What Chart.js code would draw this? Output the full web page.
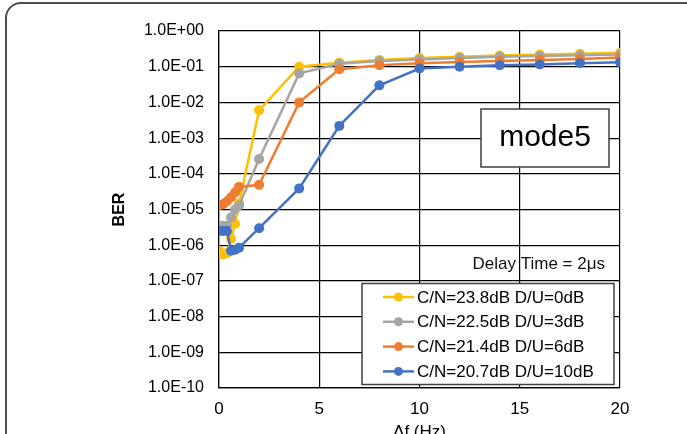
<!DOCTYPE html>
<html>
<head>
<meta charset="utf-8">
<script src="https://cdn.jsdelivr.net/npm/chart.js@4.4.1/dist/chart.umd.min.js"></script>
<style>
  html, body { margin: 0; padding: 0; background: #fff; overflow: hidden; width: 687px; height: 434px; }
  .frame { position: absolute; left: 5px; top: 2px; width: 900px; height: 700px; border: 2px solid #4d4d4d; border-radius: 16px; }
  #wrap { position: absolute; left: 0; top: 0; width: 687px; height: 460px; }
</style>
</head>
<body>
<div class="frame"></div>
<div id="wrap"><canvas id="chart" width="687" height="460"></canvas></div>
<script>
// frequency offset (Hz)
const freqs = [0, 0.2, 0.4, 0.6, 0.8, 1, 2, 4, 6, 8, 10, 12, 14, 16, 18, 20];

const seriesNames = [
    'C/N=23.8dB D/U=0dB',
    'C/N=22.5dB D/U=3dB',
    'C/N=21.4dB D/U=6dB',
    'C/N=20.7dB D/U=10dB',
];

// BER per series
const berDU0  = [7e-7, 5.5e-7, 6e-7, 1.5e-6, 4e-6, 1.5e-5, 6e-3, 0.1, 0.13, 0.155, 0.175, 0.19, 0.205, 0.22, 0.23, 0.245];
const berDU3  = [3.5e-6, 3.5e-6, 3.5e-6, 6e-6, 1e-5, 1.3e-5, 2.6e-4, 0.065, 0.12, 0.145, 0.16, 0.175, 0.19, 0.2, 0.21, 0.22];
const berDU6  = [1.3e-5, 1.4e-5, 1.7e-5, 2.2e-5, 3e-5, 4.3e-5, 4.9e-5, 1e-2, 0.085, 0.11, 0.125, 0.135, 0.145, 0.155, 0.165, 0.18];
const berDU10 = [2.5e-6, 2.5e-6, 2.5e-6, 7e-7, 7.5e-7, 8.5e-7, 3e-6, 3.9e-5, 2.2e-3, 3e-2, 8.9e-2, 0.1, 0.11, 0.115, 0.125, 0.133];

const seriesColors = ['#FFC000', '#A5A5A5', '#ED7D31', '#4472C4'];

const yTicks = [1, 1e-1, 1e-2, 1e-3, 1e-4, 1e-5, 1e-6, 1e-7, 1e-8, 1e-9, 1e-10];

const FONT = "'Liberation Sans', Arial, sans-serif";

const fmtExp = (v) => {
    const e = Math.round(Math.log10(v));
    return '1.0E' + (e < 0 ? '-' : '+') + String(Math.abs(e)).padStart(2, '0');
};

const allSeries = [berDU0, berDU3, berDU6, berDU10];

const datasets = allSeries.map((vals, i) => ({
    label: seriesNames[i],
    data: vals.map((v, j) => ({ x: freqs[j], y: v })),
    borderColor: seriesColors[i],
    backgroundColor: seriesColors[i],
    pointBackgroundColor: seriesColors[i],
    pointBorderWidth: 0,
    pointRadius: 5,
    borderWidth: 2.5,
    tension: 0,
    order: allSeries.length - i, // later series on top
}));

// legend, mode label and delay note drawn inside plot
const overlays = {
    id: 'overlays',
    beforeDatasetsDraw(chart) {
        const { ctx, chartArea: ca } = chart;
        ctx.save();
        ctx.fillStyle = '#111';
        ctx.font = '17px ' + FONT;
        ctx.textAlign = 'right';
        ctx.textBaseline = 'alphabetic';
        ctx.fillText('Delay Time = 2\u03bcs', ca.right - 15, ca.top + 238);
        ctx.restore();
    },
    afterDatasetsDraw(chart) {
        const { ctx, chartArea: ca } = chart;
        ctx.save();

        // mode box
        const mx = ca.right - 139, my = ca.top + 78;
        ctx.fillStyle = '#fff';
        ctx.fillRect(mx, my, 128, 58);
        ctx.strokeStyle = '#404040';
        ctx.lineWidth = 1.5;
        ctx.strokeRect(mx, my, 128, 58);
        ctx.fillStyle = '#000';
        ctx.font = '30px ' + FONT;
        ctx.textAlign = 'center';
        ctx.textBaseline = 'middle';
        ctx.fillText('mode5', mx + 64, my + 29);

        // legend
        const lx = ca.right - 258, ly = ca.top + 252.5;
        const lw = 252, lh = 101;
        ctx.fillStyle = '#fff';
        ctx.fillRect(lx, ly, lw, lh);
        ctx.strokeStyle = '#404040';
        ctx.lineWidth = 1.5;
        ctx.strokeRect(lx, ly, lw, lh);
        ctx.font = '17px ' + FONT;
        ctx.textAlign = 'left';
        chart.data.datasets.forEach((ds, i) => {
            const cy = ly + 13.5 + i * 24.8;
            ctx.strokeStyle = ds.borderColor;
            ctx.lineWidth = 2.5;
            ctx.beginPath();
            ctx.moveTo(lx + 21, cy);
            ctx.lineTo(lx + 52, cy);
            ctx.stroke();
            ctx.fillStyle = ds.borderColor;
            ctx.beginPath();
            ctx.arc(lx + 36.5, cy, 4.5, 0, Math.PI * 2);
            ctx.fill();
            ctx.fillStyle = '#000';
            ctx.fillText(ds.label, lx + 55, cy + 1);
        });
        ctx.restore();
    }
};

const chart = new Chart(document.getElementById('chart'), {
    type: 'line',
    data: { datasets },
    plugins: [overlays],
    options: {
        responsive: false,
        animation: false,
        devicePixelRatio: 1,
        layout: { padding: { top: 31, right: 67, left: 0, bottom: 0 } },
        plugins: {
            legend: { display: false },
            tooltip: { enabled: false },
        },
        scales: {
            x: {
                type: 'linear',
                min: 0,
                max: 20,
                ticks: { stepSize: 5, padding: 11, color: '#000', font: { family: FONT, size: 17 } },
                grid: { color: '#000', lineWidth: 1.2, drawTicks: false },
                border: { color: '#000', width: 1.2 },
                title: { display: true, text: '\u0394f (Hz)', color: '#000', font: { family: FONT, size: 17 }, padding: { top: 0, bottom: 17 } },
                afterFit: (s) => { s.height = 72; },
            },
            y: {
                type: 'logarithmic',
                min: 1e-10,
                max: 1,
                afterBuildTicks: (s) => { s.ticks = yTicks.map(v => ({ value: v })); },
                ticks: { padding: 15, color: '#000', font: { family: FONT, size: 16 }, callback: (v) => fmtExp(v) },
                grid: { color: '#000', lineWidth: 1.2, drawTicks: false },
                border: { color: '#000', width: 1.2 },
                title: { display: true, text: 'BER', color: '#000', font: { family: FONT, size: 16, weight: 'bold' }, padding: { top: 110, bottom: 0 } },
                afterFit: (s) => { s.width = 219; },
            },
        },
    },
});
</script>
</body>
</html>
